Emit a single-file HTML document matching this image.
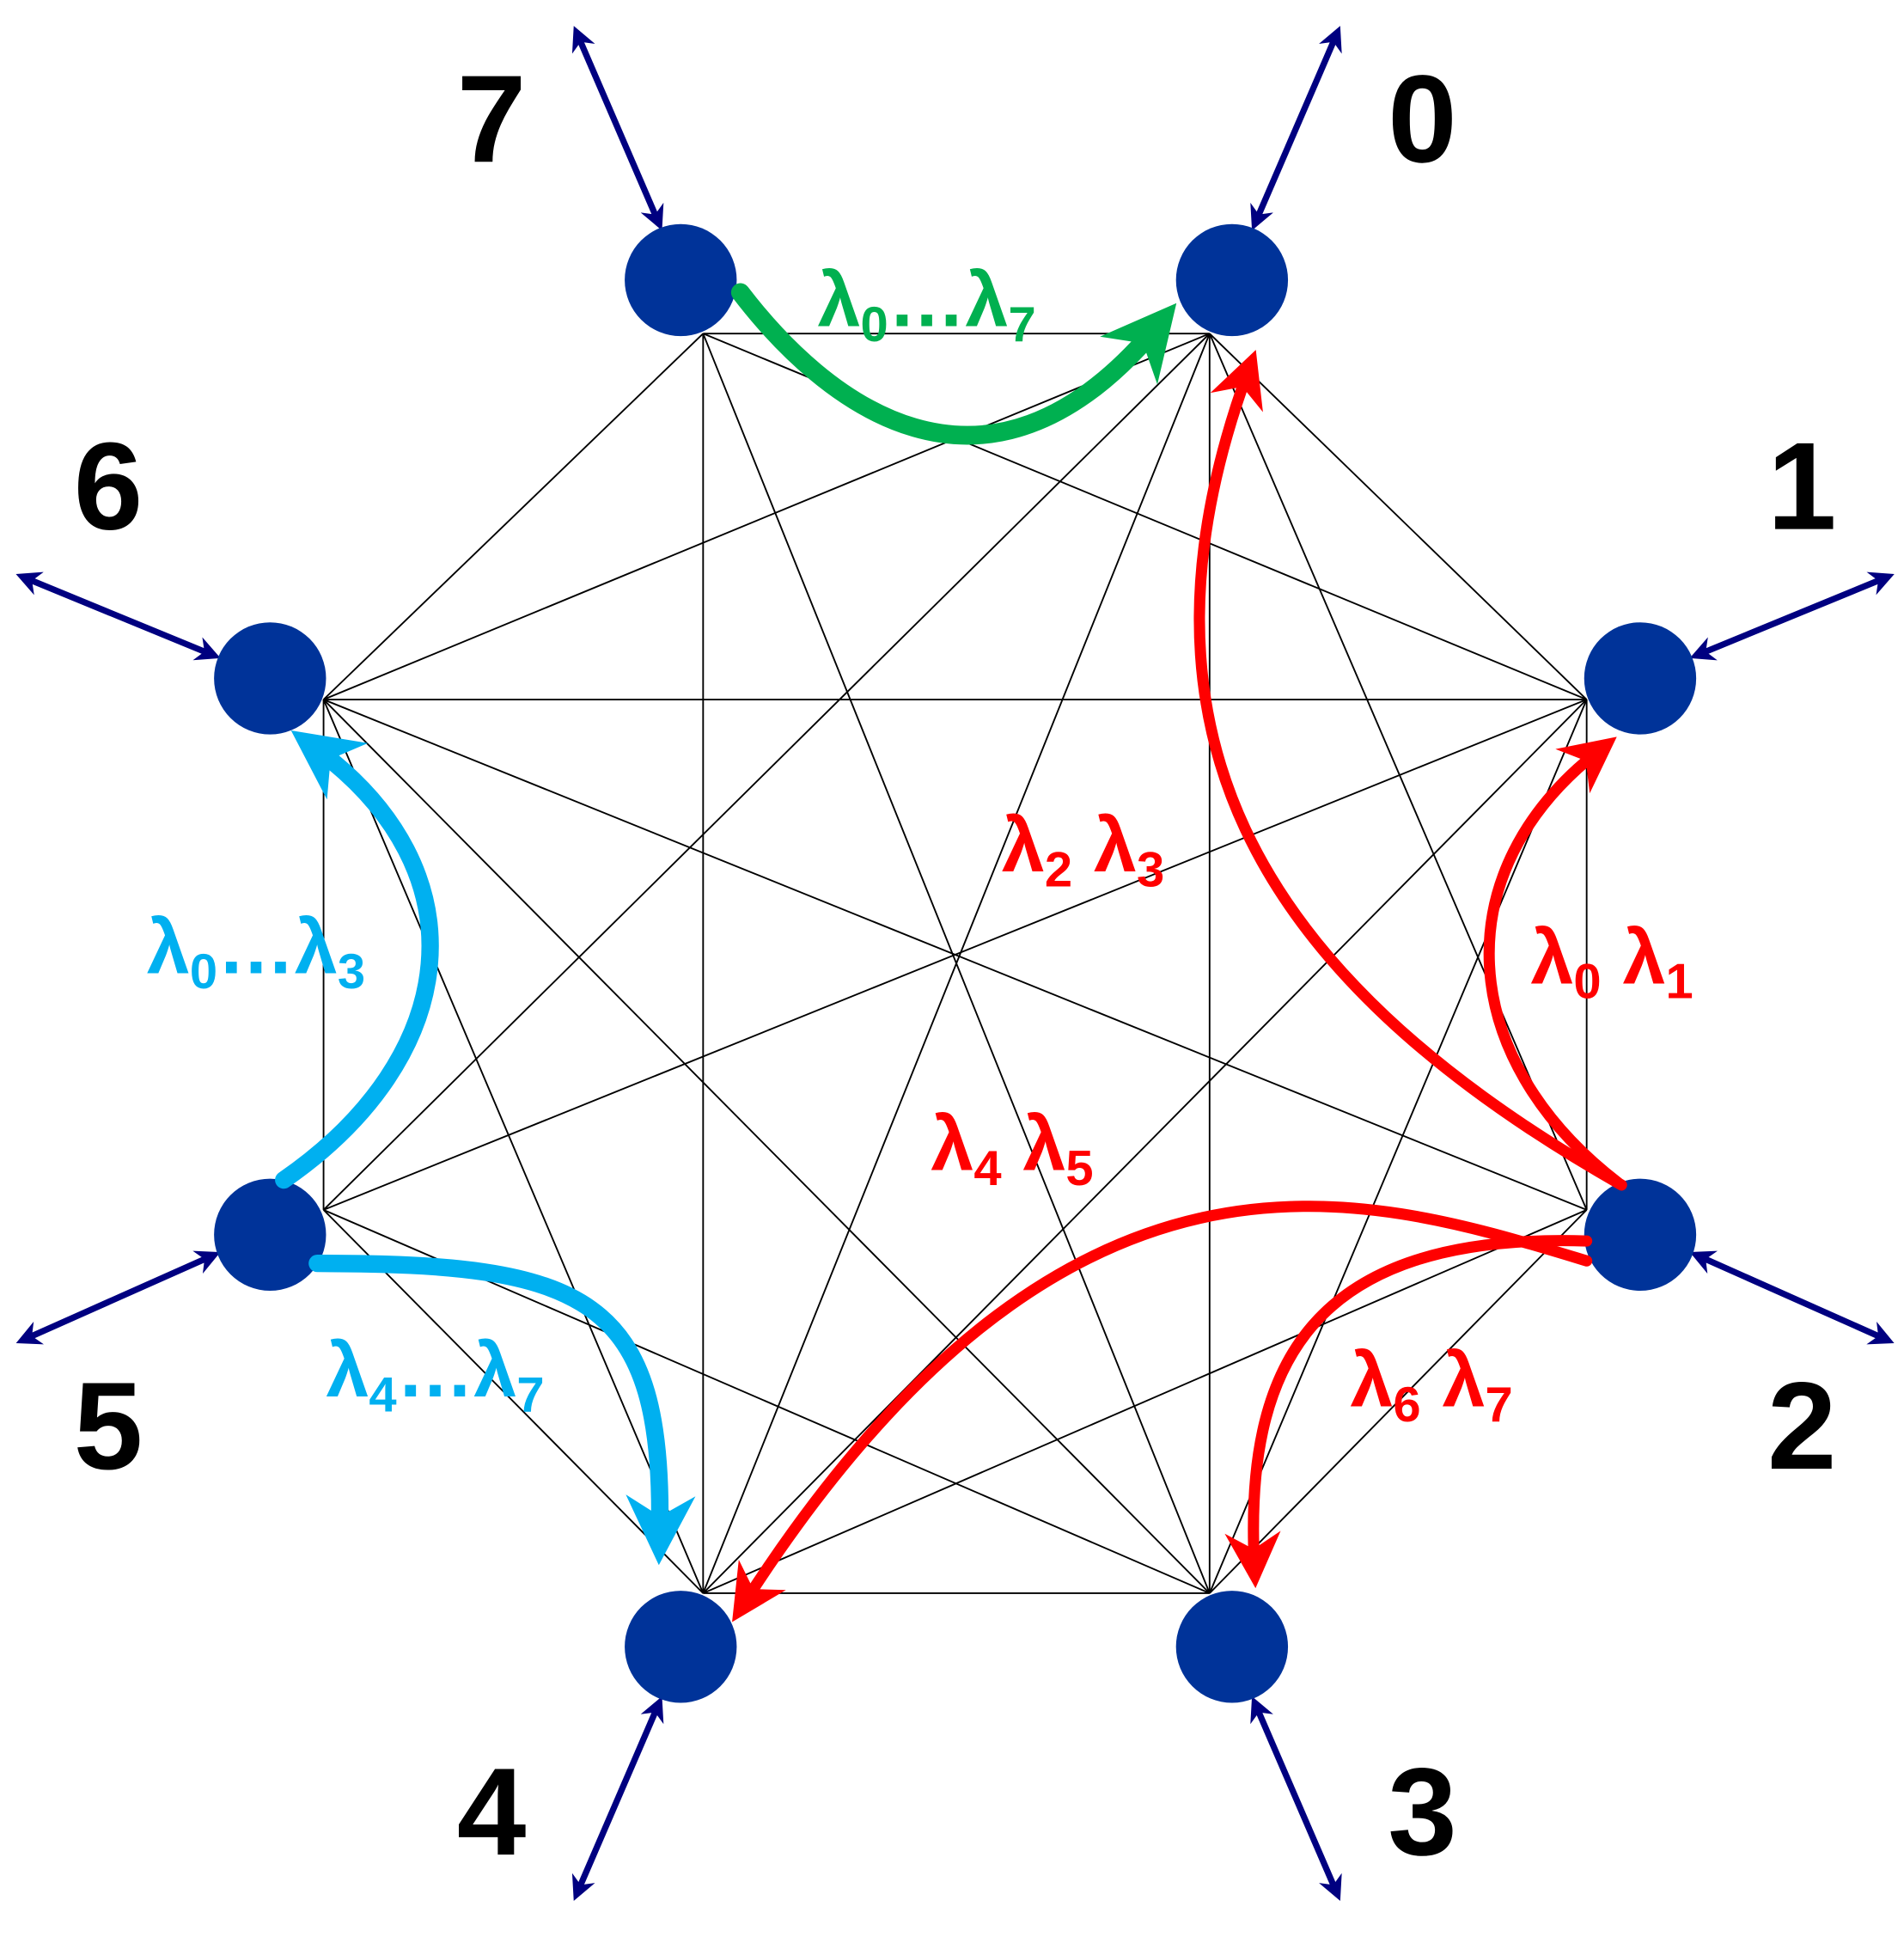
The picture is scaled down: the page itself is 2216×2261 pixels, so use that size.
<!DOCTYPE html>
<html><head><meta charset="utf-8"><style>
html,body{margin:0;padding:0;background:#fff}
svg{display:block}
text{font-family:"Liberation Sans",sans-serif;font-weight:bold}
</style></head><body>
<svg width="2216" height="2261" viewBox="0 0 1530 1561" preserveAspectRatio="none">
<defs>
<marker id="bh" viewBox="0 0 10 10" refX="5" refY="5" markerWidth="4" markerHeight="4" orient="auto-start-reverse"><path d="M0,0 L10,5 L0,10 L3,5z" fill="#000080"/></marker>
<marker id="gh" viewBox="0 0 10 10" refX="6" refY="5" markerWidth="4" markerHeight="4" orient="auto"><path d="M0,0 L10,5 L0,10 L3,5z" fill="#00b050"/></marker>
<marker id="ch" viewBox="0 0 10 10" refX="6" refY="5" markerWidth="4" markerHeight="4" orient="auto"><path d="M0,0 L10,5 L0,10 L3,5z" fill="#00b0f0"/></marker>
<marker id="rh" viewBox="0 0 10 10" refX="6" refY="5" markerWidth="5" markerHeight="5" orient="auto"><path d="M0,0 L10,5 L0,10 L3,5z" fill="#ff0000"/></marker>
</defs>
<g id="mesh" stroke="#000" stroke-width="1.3"></g>
<g stroke="#000080" stroke-width="5" marker-start="url(#bh)" marker-end="url(#bh)">
<line x1="465" y1="30" x2="528" y2="176"/><line x1="1073" y1="30" x2="1010" y2="176"/>
<line x1="1513" y1="465" x2="1367" y2="525"/><line x1="22" y1="465" x2="168" y2="525"/>
<line x1="22" y1="1075" x2="168" y2="1010"/><line x1="1513" y1="1075" x2="1367" y2="1010"/>
<line x1="465" y1="1518" x2="528" y2="1372"/><line x1="1073" y1="1518" x2="1010" y2="1372"/>
</g>
<g fill="#003399">
<circle cx="547" cy="225" r="45"/>
<circle cx="990" cy="225" r="45"/>
<circle cx="1318" cy="545" r="45"/>
<circle cx="1318" cy="992" r="45"/>
<circle cx="990" cy="1323" r="45"/>
<circle cx="547" cy="1323" r="45"/>
<circle cx="217" cy="992" r="45"/>
<circle cx="217" cy="545" r="45"/>
</g>
<g fill="none" stroke-linecap="round">
<path d="M595,235 C660,320 790,430 930,262" stroke="#00b050" stroke-width="15" marker-end="url(#gh)"/>
<path d="M228,948 C370,850 390,700 252,600" stroke="#00b0f0" stroke-width="14" marker-end="url(#ch)"/>
<path d="M255,1015 C470,1015 535,1040 530,1235" stroke="#00b0f0" stroke-width="14" marker-end="url(#ch)"/>
<path d="M1303,952 C1000,780 900,580 1003,298" stroke="#ff0000" stroke-width="9" marker-end="url(#rh)"/>
<path d="M1300,950 C1170,850 1160,700 1285,603" stroke="#ff0000" stroke-width="9" marker-end="url(#rh)"/>
<path d="M1275,1013 C1100,960 860,880 598,1288" stroke="#ff0000" stroke-width="9" marker-end="url(#rh)"/>
<path d="M1275,997 C1050,990 1000,1100 1008,1258" stroke="#ff0000" stroke-width="9" marker-end="url(#rh)"/>
</g>
<g font-size="100" fill="#000" text-anchor="middle">
<text x="395" y="130">7</text>
<text x="1143" y="130">0</text>
<text x="1448" y="425">1</text>
<text x="87" y="425">6</text>
<text x="87" y="1180">5</text>
<text x="1448" y="1180">2</text>
<text x="395" y="1490">4</text>
<text x="1143" y="1490">3</text>
</g>
<g font-size="62">
<text x="657" y="262" fill="#00b050">λ<tspan font-size="40" dy="12">0</tspan><tspan dy="-12">…λ</tspan><tspan font-size="40" dy="12">7</tspan></text>
<text x="118" y="782" fill="#00b0f0">λ<tspan font-size="40" dy="12">0</tspan><tspan dy="-12">…λ</tspan><tspan font-size="40" dy="12">3</tspan></text>
<text x="262" y="1122" fill="#00b0f0">λ<tspan font-size="40" dy="12">4</tspan><tspan dy="-12">…λ</tspan><tspan font-size="40" dy="12">7</tspan></text>
<text x="805" y="700" fill="#ff0000">λ<tspan font-size="40" dy="12">2</tspan><tspan dy="-12"> λ</tspan><tspan font-size="40" dy="12">3</tspan></text>
<text x="1230" y="790" fill="#ff0000">λ<tspan font-size="40" dy="12">0</tspan><tspan dy="-12"> λ</tspan><tspan font-size="40" dy="12">1</tspan></text>
<text x="748" y="940" fill="#ff0000">λ<tspan font-size="40" dy="12">4</tspan><tspan dy="-12"> λ</tspan><tspan font-size="40" dy="12">5</tspan></text>
<text x="1085" y="1130" fill="#ff0000">λ<tspan font-size="40" dy="12">6</tspan><tspan dy="-12"> λ</tspan><tspan font-size="40" dy="12">7</tspan></text>
</g>
</svg>
<script>
const vx=[972,1275,1275,972,565,260,260,565];
const vy=[268,562,972,1280,1280,972,562,268];
const missing=["2-7","2-5","5-7"];
const g=document.getElementById('mesh');
for(let i=0;i<8;i++)for(let j=i+1;j<8;j++){
if(missing.indexOf(i+"-"+j)>=0)continue;
const l=document.createElementNS('http://www.w3.org/2000/svg','line');
l.setAttribute('x1',vx[i]);l.setAttribute('y1',vy[i]);l.setAttribute('x2',vx[j]);l.setAttribute('y2',vy[j]);


g.appendChild(l);}
</script>
</body></html>
